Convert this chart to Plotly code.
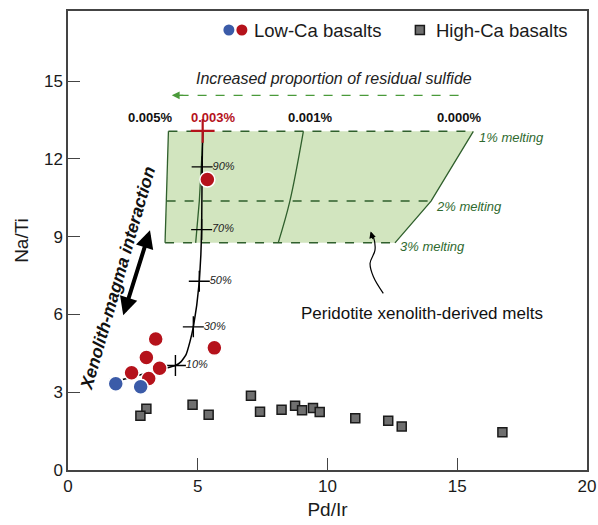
import plotly.graph_objects as go

# ---- data ----
low_ca_blue_x = [1.84, 2.80]
low_ca_blue_y = [3.33, 3.21]
low_ca_red_x = [3.38, 3.02, 2.45, 3.11, 3.53, 5.64, 5.37]
low_ca_red_y = [5.05, 4.34, 3.75, 3.53, 3.92, 4.71, 11.20]
high_ca_x = [3.02, 2.79, 4.80, 5.42, 7.05, 7.40, 8.23, 8.75, 9.02, 9.44, 9.70, 11.07, 12.34, 12.86, 16.74]
high_ca_y = [2.36, 2.09, 2.52, 2.13, 2.86, 2.25, 2.32, 2.48, 2.30, 2.39, 2.24, 2.00, 1.90, 1.68, 1.46]

# mixing curve
mix_x = [2.11, 3.20, 4.14, 4.36, 4.55, 4.70, 4.83, 4.96, 5.06, 5.12, 5.15, 5.16, 5.17, 5.19]
mix_y = [3.49, 3.78, 4.03, 4.18, 4.45, 4.95, 5.52, 6.35, 7.28, 8.30, 9.27, 10.50, 11.69, 13.08]
tick_x = [4.14, 4.83, 5.06, 5.15, 5.17]
tick_y = [4.03, 5.52, 7.28, 9.27, 11.69]
tick_labels = ["10%", "30%", "50%", "70%", "90%"]
end_x = [5.19]
end_y = [13.08]

# peridotite melt field
field_x = [3.87, 15.62, 13.99, 12.60, 3.74, 3.87]
field_y = [13.06, 13.06, 10.37, 8.76, 8.76, 13.06]
melt_levels = [13.06, 10.37, 8.76]
melt_left = [3.87, 3.80, 3.74]
melt_right = [15.62, 13.99, 12.60]
melt_labels = ["1% melting", "2% melting", "3% melting"]
iso_003_x = [5.21, 5.06, 4.92]
iso_001_x = [9.07, 8.55, 8.10]
sulfide_labels = ["0.005%", "0.003%", "0.001%", "0.000%"]
sulfide_label_x = [3.16, 5.59, 9.36, 15.07]

FONT = "Liberation Sans, Arial, Helvetica, sans-serif"
GREEN_D = "#2f5f2c"
GREEN_T = "#2f6a2f"
GREEN_A = "#4a9a3a"
RED = "#b5121b"
BLUE = "#3b5ba8"

fig = go.Figure()

# field fill
fig.add_trace(go.Scatter(x=field_x, y=field_y, fill="toself", fillcolor="#d2e5bf",
                         mode="lines", line=dict(width=0), hoverinfo="skip", showlegend=False))
for lvl, l, r in zip(melt_levels, melt_left, melt_right):
    fig.add_trace(go.Scatter(x=[l, r], y=[lvl, lvl], mode="lines",
                             line=dict(color=GREEN_D, width=1.5, dash="dash"),
                             showlegend=False, hoverinfo="skip"))
fig.add_trace(go.Scatter(x=[field_x[0], field_x[4]], y=[field_y[0], field_y[4]], mode="lines",
                         line=dict(color=GREEN_D, width=1.3), showlegend=False, hoverinfo="skip"))
fig.add_trace(go.Scatter(x=field_x[1:4], y=field_y[1:4], mode="lines",
                         line=dict(color=GREEN_D, width=1.3), showlegend=False, hoverinfo="skip"))
fig.add_trace(go.Scatter(x=iso_003_x, y=melt_levels, mode="lines",
                         line=dict(color=GREEN_D, width=1.3), showlegend=False, hoverinfo="skip"))
fig.add_trace(go.Scatter(x=iso_001_x, y=melt_levels, mode="lines", line_shape="spline",
                         line=dict(color=GREEN_D, width=1.3), showlegend=False, hoverinfo="skip"))

# mixing curve
fig.add_trace(go.Scatter(x=mix_x, y=mix_y, mode="lines", line_shape="spline",
                         line=dict(color="black", width=1.5, smoothing=0.3),
                         showlegend=False, hoverinfo="skip"))
fig.add_trace(go.Scatter(x=tick_x, y=tick_y, mode="markers+text",
                         marker=dict(symbol="cross-thin", size=15, line=dict(color="black", width=1.4)),
                         text=tick_labels, textposition="middle right",
                         textfont=dict(family=FONT, size=11, color="#222", style="italic"),
                         showlegend=False, hoverinfo="skip"))
fig.add_trace(go.Scatter(x=end_x, y=end_y, mode="markers",
                         marker=dict(symbol="cross-thin", size=17, line=dict(color=RED, width=2.2)),
                         showlegend=False, hoverinfo="skip"))

# curved pointer line
arr_x = [12.15, 11.77, 11.64, 11.83, 11.77, 11.68]
arr_y = [6.81, 7.45, 7.97, 8.48, 8.99, 9.15]
fig.add_trace(go.Scatter(x=arr_x, y=arr_y, mode="lines", line_shape="spline",
                         line=dict(color="black", width=1.2), showlegend=False, hoverinfo="skip"))

# sulfide dashed arrow line
fig.add_trace(go.Scatter(x=[4.3, 15.38], y=[14.45, 14.45], mode="lines",
                         line=dict(color=GREEN_A, width=1.3, dash="dash"),
                         showlegend=False, hoverinfo="skip"))

# data points
fig.add_trace(go.Scatter(x=high_ca_x, y=high_ca_y, mode="markers", name="High-Ca basalts",
                         marker=dict(symbol="square", size=9, color="#6f6f6f",
                                     line=dict(color="#1a1a1a", width=1.5)),
                         showlegend=False))
fig.add_trace(go.Scatter(x=low_ca_red_x, y=low_ca_red_y, mode="markers", name="Low-Ca red",
                         marker=dict(symbol="circle", size=15, color=RED, line=dict(color="white", width=1.5)),
                         showlegend=False))
fig.add_trace(go.Scatter(x=low_ca_blue_x, y=low_ca_blue_y, mode="markers", name="Low-Ca blue",
                         marker=dict(symbol="circle", size=15, color=BLUE, line=dict(color="white", width=1.5)),
                         showlegend=False))

ann = []
LY = 0.9586
ann.append(dict(xref="paper", yref="paper", x=0.354, y=LY, xanchor="left", yanchor="middle",
                text="Low-Ca basalts", showarrow=False, font=dict(family=FONT, size=18.5, color="#1a1a1a")))
ann.append(dict(xref="paper", yref="paper", x=0.706, y=LY, xanchor="left", yanchor="middle",
                text="High-Ca basalts", showarrow=False, font=dict(family=FONT, size=18.5, color="#1a1a1a")))
fig.add_trace(go.Scatter(x=[0.310, 0.335], y=[LY, LY], xaxis="x2", yaxis="y2", mode="markers",
                         marker=dict(symbol="circle", size=11, color=[BLUE, RED]),
                         showlegend=False, hoverinfo="skip"))
fig.add_trace(go.Scatter(x=[0.678], y=[LY], xaxis="x2", yaxis="y2", mode="markers",
                         marker=dict(symbol="square", size=9, color="#6f6f6f", line=dict(color="#1a1a1a", width=1.5)),
                         showlegend=False, hoverinfo="skip"))

# sulfide arrowhead
ann.append(dict(x=4.0, y=14.45, ax=4.5, ay=14.45, xref="x", yref="y", axref="x", ayref="y",
                text="", showarrow=True, arrowhead=2, arrowsize=1.2, arrowwidth=1.3,
                arrowcolor=GREEN_A))
ann.append(dict(x=10.25, y=15.1, xref="x", yref="y", text="Increased proportion of residual sulfide",
                showarrow=False, font=dict(family=FONT, size=16, color="#222", style="italic")))
for t, xx in zip(sulfide_labels, sulfide_label_x):
    ann.append(dict(x=xx, y=13.6, xref="x", yref="y", text="<b>%s</b>" % t, showarrow=False,
                    font=dict(family=FONT, size=13, color=RED if t == "0.003%" else "#111")))
for t, xx, yy in zip(melt_labels, [15.75, 14.12, 12.73], [12.82, 10.17, 8.62]):
    ann.append(dict(x=xx, y=yy, xref="x", yref="y", text=t, showarrow=False, xanchor="left",
                    font=dict(family=FONT, size=13, color=GREEN_T, style="italic")))
ann.append(dict(x=13.65, y=6.05, xref="x", yref="y", text="Peridotite xenolith-derived melts",
                showarrow=False, font=dict(family=FONT, size=17, color="#111")))
ann.append(dict(x=11.66, y=9.2, ax=11.77, ay=8.85, xref="x", yref="y", axref="x", ayref="y",
                text="", showarrow=True, arrowhead=2, arrowsize=1.1, arrowwidth=1.2, arrowcolor="black"))
ann.append(dict(x=3.16, y=9.25, ax=2.11, ay=5.91, xref="x", yref="y", axref="x", ayref="y",
                text="", showarrow=True, arrowhead=2, startarrowhead=2, arrowside="end+start",
                arrowsize=0.9, startarrowsize=0.9, arrowwidth=4, arrowcolor="black"))
ann.append(dict(x=1.92, y=7.4, xref="x", yref="y", text="<b><i>Xenolith-magma interaction</i></b>",
                textangle=-74, showarrow=False, font=dict(family=FONT, size=17.5, color="#111")))

fig.update_layout(
    width=598, height=525, margin=dict(l=68, r=11, t=11, b=55, autoexpand=False),
    plot_bgcolor="white", paper_bgcolor="white", showlegend=False,
    font=dict(family=FONT, size=17, color="#1a1a1a"),
    xaxis=dict(range=[0, 20], tickvals=[0, 5, 10, 15, 20], ticks="inside", ticklen=12,
               tickcolor="#444", showline=True, linecolor="#444", linewidth=1.5, mirror=True,
               showgrid=False, zeroline=False, automargin=False,
               title=dict(text="Pd/Ir", font=dict(size=19), standoff=8),
               tickfont=dict(size=17)),
    yaxis=dict(range=[0, 17.7], tickvals=[0, 3, 6, 9, 12, 15], ticks="inside", ticklen=12,
               tickcolor="#444", showline=True, linecolor="#444", linewidth=1.5, mirror=True,
               showgrid=False, zeroline=False, automargin=False,
               title=dict(text="Na/Ti", font=dict(size=19), standoff=10),
               tickfont=dict(size=17)),
    xaxis2=dict(range=[0, 1], domain=[0, 1], overlaying="x", visible=False),
    yaxis2=dict(range=[0, 1], domain=[0, 1], overlaying="y", visible=False),
    annotations=ann,
)

fig.write_html("out.html")
